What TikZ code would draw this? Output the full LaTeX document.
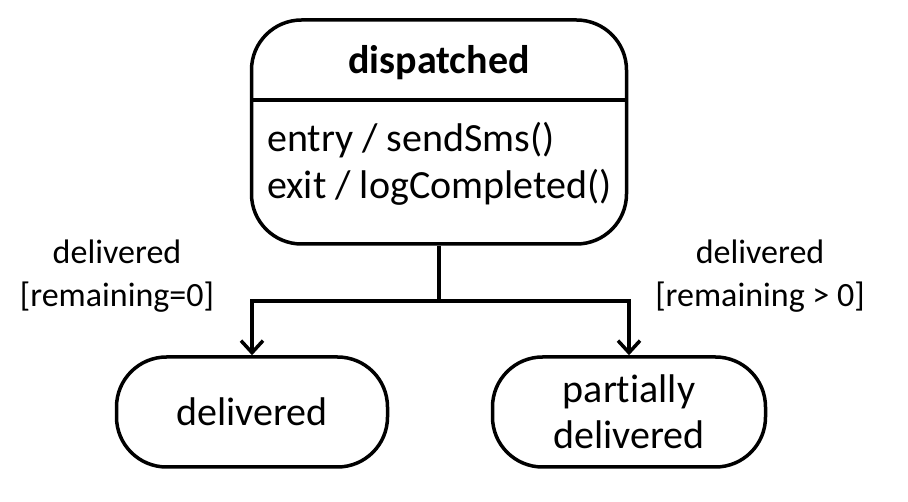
\documentclass[tikz,border=0pt]{standalone}
\usepackage{fontspec}
\setmainfont{Carlito}[RawFeature={-liga}]
\usetikzlibrary{arrows.meta}
\tikzset{
  statebox/.style={draw, line width=3.5pt, rounded corners=50pt, inner sep=0pt, align=center},
  bigtxt/.style={font=\fontsize{40}{47}\selectfont, inner sep=0pt},
  lbl/.style={font=\fontsize{34}{43}\selectfont, inner sep=0pt, align=center},
  conn/.style={line width=3.5pt},
  arr/.style={conn, -{Straight Barb[length=12pt, width=22pt, line width=3.5pt]}}
}
\begin{document}
\begin{tikzpicture}[x=1pt,y=-1pt]
\useasboundingbox (0,0) rectangle (908,502);
\node[statebox, minimum width=375pt, minimum height=224pt] (disp) at (439,132) {};
\draw[conn] (252,100) -- (627,100);
\node[bigtxt, font=\fontsize{40}{47}\selectfont\bfseries] (title) at (439,63) {dispatched};
\node[bigtxt, anchor=base west] (entry) at (267,152) {entry / sendSms()};
\node[bigtxt, anchor=base west] (exit) at (267,199) {exit / logCompleted()};
\node[statebox, minimum width=271pt, minimum height=110pt, font=\fontsize{40}{46}\selectfont] (deliv) at (252,412) {delivered};
\node[statebox, minimum width=273pt, minimum height=110pt, font=\fontsize{40}{46}\selectfont] (part) at (629,412) {partially\\delivered};
\coordinate (split) at (439,301);
\draw[conn] (disp.south) -- (split);
\draw[arr] (split) -| (deliv.north);
\draw[arr] (split) -| (part.north);
\node[lbl] (l1) at (117,276) {delivered\\{}[remaining=0]};
\node[lbl] (l2) at (760,276) {delivered\\{}[remaining > 0]};
\end{tikzpicture}
\end{document}
